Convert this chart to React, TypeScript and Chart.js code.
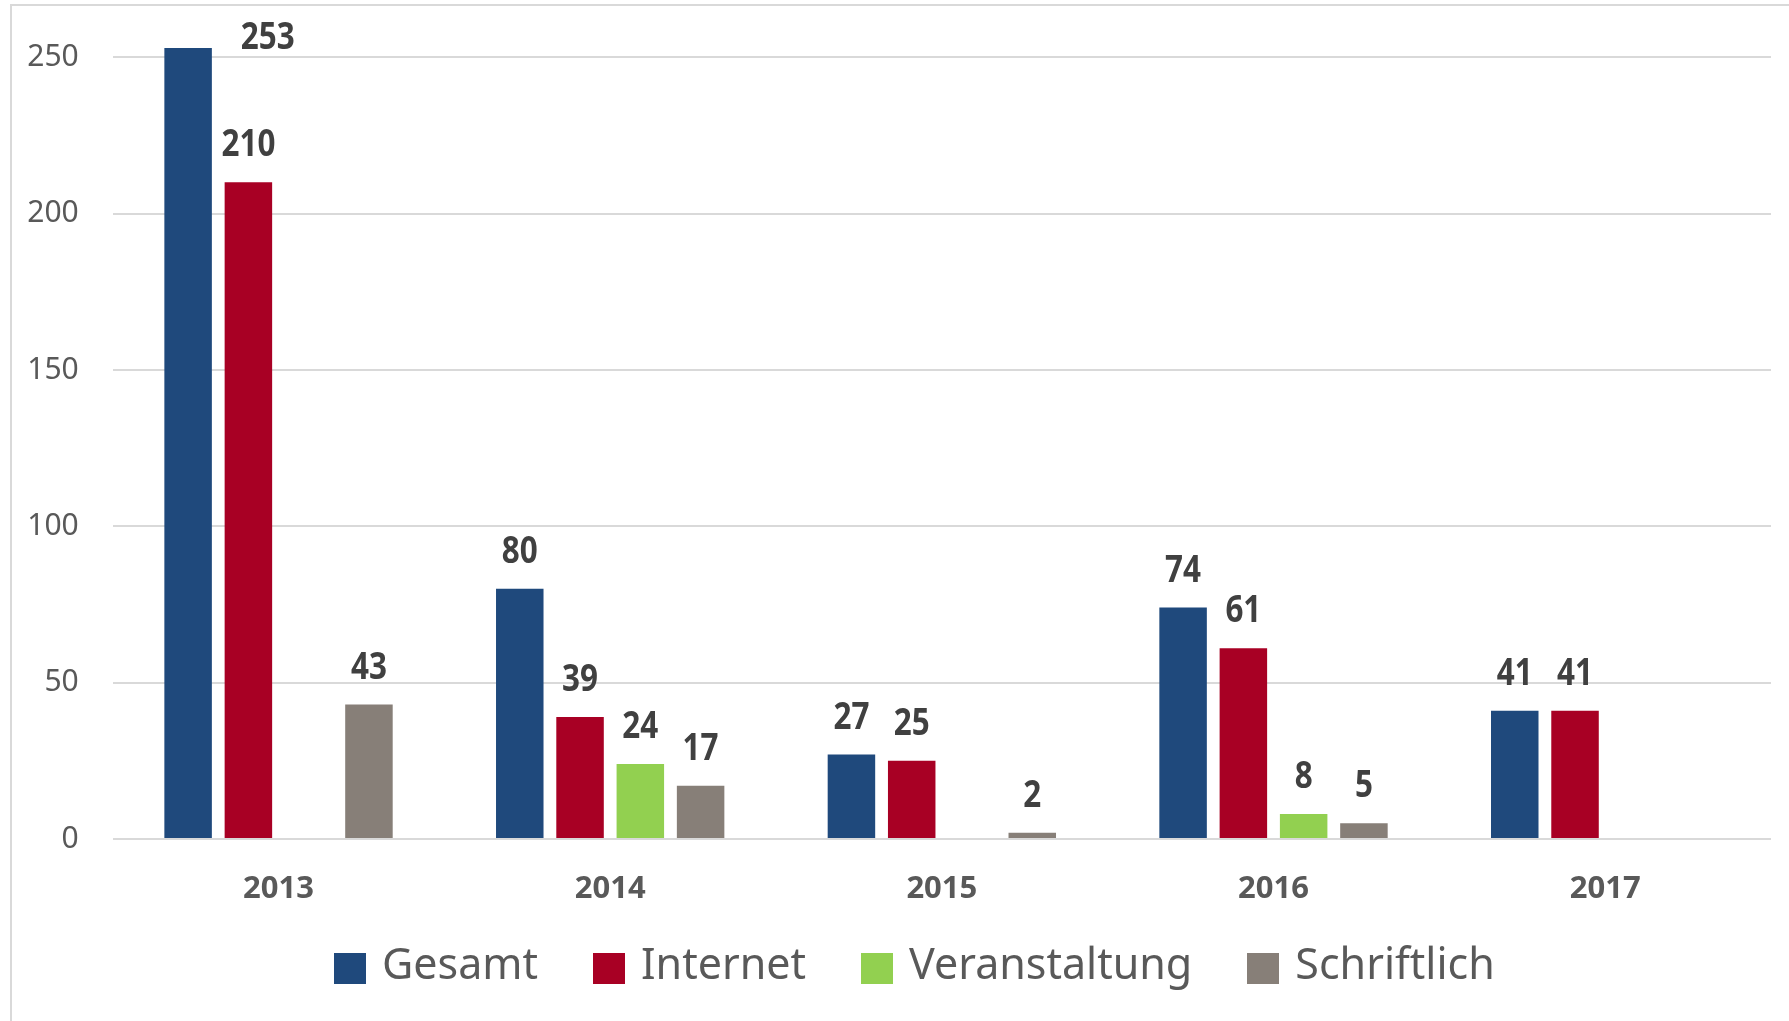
import React, { useEffect, useRef } from "react";
import { Chart, registerables } from "chart.js";

Chart.register(...registerables);

const categories = ["2013", "2014", "2015", "2016", "2017"];
const seriesNames = ["Gesamt", "Internet", "Veranstaltung", "Schriftlich"];
const gesamt = [253, 80, 27, 74, 41];
const internet = [210, 39, 25, 61, 41];
const veranstaltung = [0, 24, 0, 8, 0];
const schriftlich = [43, 17, 2, 5, 0];
const seriesColors = ["#1F497C", "#A80024", "#92D050", "#877F78"];
const yTicks = [0, 50, 100, 150, 200, 250];

const FONT = '"Noto Sans", sans-serif';
const W = 1789;
const H = 1021;

const valueLabels = {
  id: "valueLabels",
  afterDatasetsDraw(chart: any) {
    const ctx = chart.ctx;
    const sx = 0.85;
    chart.data.datasets.forEach((ds: any, di: number) => {
      const meta = chart.getDatasetMeta(di);
      meta.data.forEach((bar: any, i: number) => {
        const v = ds.data[i];
        if (v == null || v === 0) return;
        const p = bar.getProps(["x", "y", "width"], true);
        let lx = p.x;
        let ly = p.y - 26;
        let align = "center";
        if (ly - 27 < chart.chartArea.top) {
          align = "left";
          lx = p.x + p.width / 2 + 29;
          ly = p.y + 1;
        }
        ctx.save();
        ctx.font = `bold 37px ${FONT}`;
        ctx.fillStyle = "#404040";
        ctx.textBaseline = "alphabetic";
        ctx.textAlign = align;
        ctx.translate(lx, ly);
        ctx.scale(sx, 1);
        ctx.fillText(String(v), 0, 0);
        ctx.restore();
      });
    });
  },
};

export default function App() {
  const ref = useRef<HTMLCanvasElement | null>(null);

  useEffect(() => {
    if (!ref.current) return;
    const data = [gesamt, internet, veranstaltung, schriftlich];
    const chart = new Chart(ref.current, {
      type: "bar",
      data: {
        labels: categories,
        datasets: seriesNames.map((name, i) => ({
          label: name,
          data: data[i],
          backgroundColor: seriesColors[i],
          borderWidth: 0,
          categoryPercentage: 0.727,
          barPercentage: 0.788,
        })),
      },
      options: {
        animation: false,
        responsive: false,
        devicePixelRatio: 1,
        layout: { padding: { left: 0, right: 18, top: 26, bottom: 102 } },
        plugins: {
          legend: { display: false },
          tooltip: { enabled: false },
        },
        scales: {
          x: {
            grid: { display: false, drawTicks: false },
            border: { display: false },
            ticks: {
              color: "#595959",
              padding: 32,
              font: { family: FONT, size: 31, weight: "bold" },
            },
            afterFit: (s: any) => {
              s.height = 80;
              s.paddingLeft = 0;
              s.paddingRight = 0;
            },
          },
          y: {
            min: 0,
            max: 260,
            grid: { color: "#D9D9D9", lineWidth: 2, drawTicks: false },
            border: { display: false },
            ticks: {
              stepSize: 50,
              color: "#595959",
              padding: 34,
              font: { family: FONT, size: 30 },
            },
            afterBuildTicks: (s: any) => {
              s.ticks = yTicks.map((v) => ({ value: v }));
            },
            afterFit: (s: any) => {
              s.width = 112.7;
              s.paddingTop = 0;
              s.paddingBottom = 0;
            },
          },
        },
      },
      plugins: [valueLabels],
    });
    return () => chart.destroy();
  }, []);

  const legendItem = (name: string, i: number) => (
    <div key={name} style={{ display: "flex", alignItems: "flex-start", marginRight: 55 }}>
      <div style={{ width: 32, height: 31, marginTop: 12, background: seriesColors[i] }} />
      <div
        style={{
          marginLeft: 16,
          fontSize: 43,
          lineHeight: "44px",
          color: "#595959",
          fontFamily: FONT,
          whiteSpace: "nowrap",
        }}
      >
        {name}
      </div>
    </div>
  );

  return (
    <div style={{ position: "absolute", left: 0, top: 0, width: W, height: H, overflow: "hidden", background: "#fff" }}>
      <canvas ref={ref} width={W} height={H} style={{ display: "block", width: W, height: H }} />
      <div style={{ position: "absolute", left: 10, top: 4, width: W - 10, height: 2, background: "#D9D9D9" }} />
      <div style={{ position: "absolute", left: 10, top: 4, width: 2, height: H - 4, background: "#D9D9D9" }} />
      <div style={{ position: "absolute", left: 334, top: 941, display: "flex" }}>
        {seriesNames.map((n, i) => legendItem(n, i))}
      </div>
    </div>
  );
}
